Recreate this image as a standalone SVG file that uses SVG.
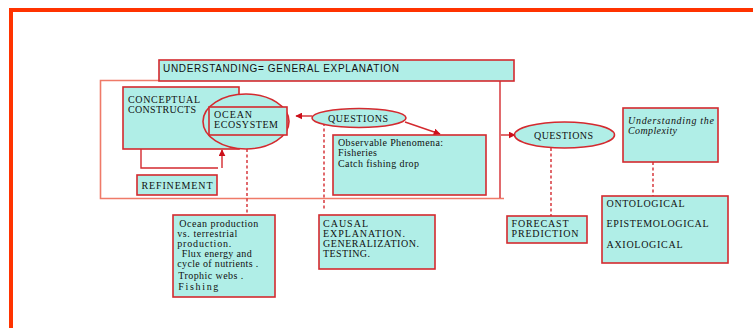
<svg xmlns="http://www.w3.org/2000/svg" width="753" height="328" viewBox="0 0 753 328">
<defs>
<style>
.box{fill:#b0eee7;stroke:#d42a2f;stroke-width:1.6}
.frame{fill:none;stroke:#ef7a68;stroke-width:1.6}
.ln{fill:none;stroke:#d42a2f;stroke-width:1.4}
.dash{fill:none;stroke:#d42a2f;stroke-width:1.4;stroke-dasharray:3,2.5}
.t{font-family:"Liberation Serif","Times New Roman",serif;font-size:10px;fill:#111}
.l{font-family:"Liberation Serif","Times New Roman",serif;font-size:10px;fill:#111}
.s{font-family:"Liberation Sans",Arial,sans-serif;font-size:10px;fill:#111}
.i{font-family:"Liberation Serif","Times New Roman",serif;font-size:10px;font-style:italic;fill:#111}
</style>
<marker id="ah" viewBox="0 0 10 10" refX="9" refY="5" markerWidth="7" markerHeight="7" orient="auto" markerUnits="userSpaceOnUse">
<path d="M0,0 L10,5 L0,10 z" fill="#cc0f1a"/>
</marker>
</defs>
<rect width="753" height="328" fill="#ffffff"/>
<path d="M11,340 L11,10 L760,10" fill="none" stroke="#ff3300" stroke-width="4"/>

<g id="frame">
<path class="frame" d="M159,80.5 L100.5,80.5 L100.5,198.5 L504,198.5"/>
<path class="ln" d="M500,81 L500,198"/>
</g>

<g id="connectors">
<path class="ln" d="M312,116 L296,116" marker-end="url(#ah)"/>
<path class="ln" d="M405,122 L440,134" marker-end="url(#ah)"/>
<path class="ln" d="M141,149 L141,168 L218,168"/>
<path class="ln" d="M222,168 L222,150" marker-end="url(#ah)"/>
<path class="ln" d="M501,135 L515,135" marker-end="url(#ah)"/>
<path class="dash" d="M247,149 L247,215"/>
<path class="dash" d="M324,123 L324,211"/>
<path class="dash" d="M551,148 L551,216"/>
<path class="dash" d="M653,162 L653,196"/>
</g>

<g id="title">
<rect class="box" x="159" y="60" width="355" height="21"/>
<text class="s" x="163" y="71.5" textLength="236" lengthAdjust="spacing">UNDERSTANDING= GENERAL EXPLANATION</text>
</g>

<g id="conceptual">
<rect class="box" x="123" y="87" width="116" height="62"/>
<text class="t" x="128" y="103" textLength="72" lengthAdjust="spacing">CONCEPTUAL</text>
<text class="t" x="128" y="113" textLength="68" lengthAdjust="spacing">CONSTRUCTS</text>
</g>

<g id="ocean-ecosystem">
<ellipse class="box" cx="246" cy="121.5" rx="43" ry="27.5"/>
<rect class="box" x="209" y="107" width="78" height="28"/>
<text class="t" x="214" y="118" textLength="38" lengthAdjust="spacing">OCEAN</text>
<text class="t" x="214" y="128" textLength="64" lengthAdjust="spacing">ECOSYSTEM</text>
</g>

<g id="questions1">
<ellipse class="box" cx="359" cy="118" rx="47" ry="9.5"/>
<text class="t" x="328" y="121.5" textLength="60" lengthAdjust="spacing">QUESTIONS</text>
</g>

<g id="observable">
<rect class="box" x="333" y="135" width="153" height="60"/>
<text class="l" x="338" y="145.5" textLength="105" lengthAdjust="spacing">Observable Phenomena:</text>
<text class="l" x="338" y="156" textLength="39" lengthAdjust="spacing">Fisheries</text>
<text class="l" x="338" y="166.5" textLength="81" lengthAdjust="spacing">Catch fishing drop</text>
</g>

<g id="refinement">
<rect class="box" x="137" y="175" width="80" height="20"/>
<text class="t" x="141.5" y="189" textLength="71" lengthAdjust="spacing">REFINEMENT</text>
</g>

<g id="ocean-production">
<rect class="box" x="173" y="215" width="102" height="82"/>
<text class="l" x="179.3" y="227" textLength="79" lengthAdjust="spacing">Ocean production</text>
<text class="l" x="177.3" y="237" textLength="60" lengthAdjust="spacing">vs. terrestrial</text>
<text class="l" x="177.3" y="247" textLength="54" lengthAdjust="spacing">production.</text>
<text class="l" x="181.7" y="257" textLength="70" lengthAdjust="spacing">Flux energy and</text>
<text class="l" x="177.3" y="267" textLength="81" lengthAdjust="spacing">cycle of nutrients .</text>
<text class="l" x="178.3" y="279" textLength="65" lengthAdjust="spacing">Trophic webs .</text>
<text class="l" x="178.3" y="290" textLength="40" lengthAdjust="spacing">Fishing</text>
</g>

<g id="causal">
<rect class="box" x="319" y="215" width="116" height="54"/>
<text class="t" x="323" y="227" textLength="45" lengthAdjust="spacing">CAUSAL</text>
<text class="t" x="323" y="237" textLength="82" lengthAdjust="spacing">EXPLANATION.</text>
<text class="t" x="323" y="247" textLength="96" lengthAdjust="spacing">GENERALIZATION.</text>
<text class="t" x="323" y="257" textLength="47" lengthAdjust="spacing">TESTING.</text>
</g>

<g id="questions2">
<ellipse class="box" cx="564.5" cy="135" rx="50" ry="13"/>
<text class="t" x="534" y="138.5" textLength="59" lengthAdjust="spacing">QUESTIONS</text>
</g>

<g id="forecast">
<rect class="box" x="507" y="216" width="80" height="27"/>
<text class="t" x="511.5" y="227" textLength="57" lengthAdjust="spacing">FORECAST</text>
<text class="t" x="511.5" y="237" textLength="67" lengthAdjust="spacing">PREDICTION</text>
</g>

<g id="complexity">
<rect class="box" x="623" y="108" width="95" height="54"/>
<text class="i" x="628" y="124" textLength="86" lengthAdjust="spacing">Understanding the</text>
<text class="i" x="628" y="134" textLength="49" lengthAdjust="spacing">Complexity</text>
</g>

<g id="ontological">
<rect class="box" x="602" y="196" width="126" height="67"/>
<text class="t" x="606.5" y="206.5" textLength="78" lengthAdjust="spacing">ONTOLOGICAL</text>
<text class="t" x="606.5" y="227" textLength="102" lengthAdjust="spacing">EPISTEMOLOGICAL</text>
<text class="t" x="606.5" y="248" textLength="76" lengthAdjust="spacing">AXIOLOGICAL</text>
</g>
</svg>
